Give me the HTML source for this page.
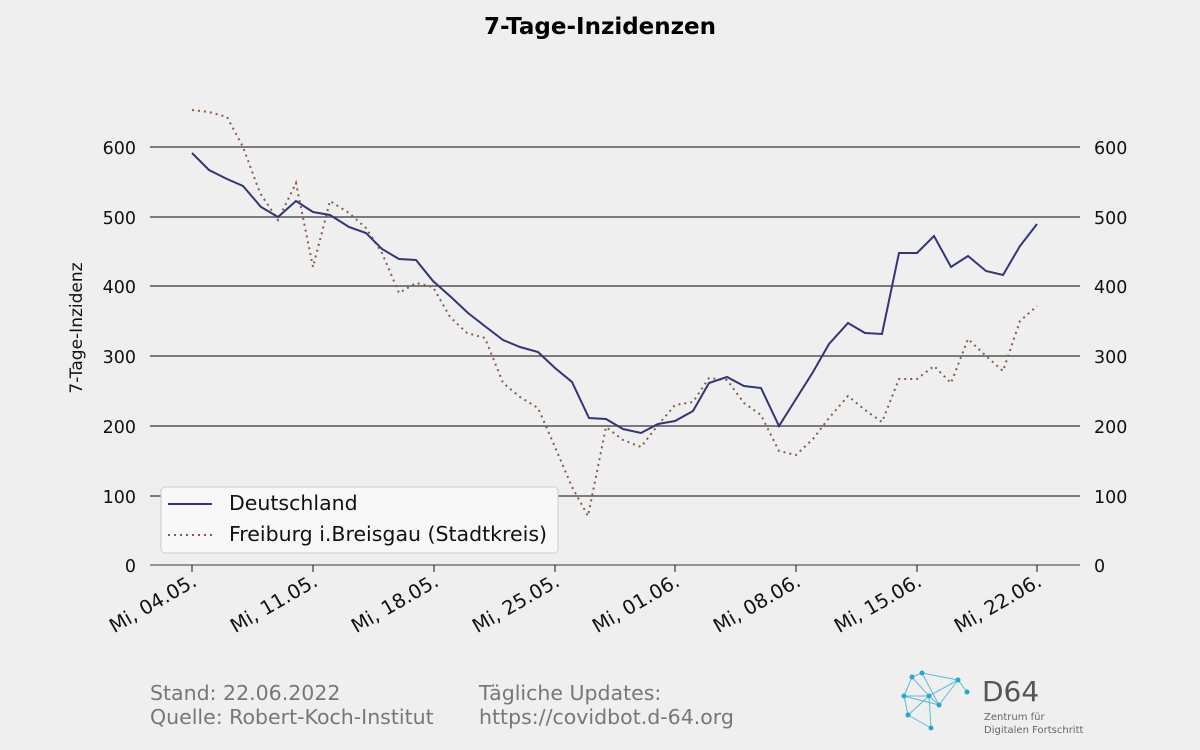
<!DOCTYPE html>
<html><head><meta charset="utf-8"><style>
html,body{margin:0;padding:0;background:#efefef;}
svg{display:block;font-family:"DejaVu Sans","Liberation Sans",sans-serif;}
</style></head><body>
<svg width="1200" height="750" viewBox="0 0 1200 750" xmlns="http://www.w3.org/2000/svg">
<rect width="1200" height="750" fill="#efefef"/>
<text x="600" y="34" text-anchor="middle" font-size="23" font-weight="bold" fill="#000">7-Tage-Inzidenzen</text>
<g stroke="#555" stroke-width="1.5">
<line x1="150" y1="147" x2="1080" y2="147"/>
<line x1="150" y1="217" x2="1080" y2="217"/>
<line x1="150" y1="286" x2="1080" y2="286"/>
<line x1="150" y1="356" x2="1080" y2="356"/>
<line x1="150" y1="426" x2="1080" y2="426"/>
<line x1="150" y1="496" x2="1080" y2="496"/>
<line x1="150" y1="565" x2="1080" y2="565" stroke="#777"/>
</g>
<g stroke="#333" stroke-width="1.2">
<line x1="192" y1="565" x2="192" y2="572"/><line x1="313" y1="565" x2="313" y2="572"/>
<line x1="434" y1="565" x2="434" y2="572"/><line x1="555" y1="565" x2="555" y2="572"/>
<line x1="675" y1="565" x2="675" y2="572"/><line x1="796" y1="565" x2="796" y2="572"/>
<line x1="917" y1="565" x2="917" y2="572"/><line x1="1037" y1="565" x2="1037" y2="572"/>
</g>
<g font-size="17.5" fill="#111">
<g text-anchor="end">
<text x="136" y="154">600</text><text x="136" y="224">500</text><text x="136" y="293">400</text>
<text x="136" y="363">300</text><text x="136" y="433">200</text><text x="136" y="503">100</text><text x="136" y="572">0</text>
</g>
<g text-anchor="start">
<text x="1094" y="154">600</text><text x="1094" y="224">500</text><text x="1094" y="293">400</text>
<text x="1094" y="363">300</text><text x="1094" y="433">200</text><text x="1094" y="503">100</text><text x="1094" y="572">0</text>
</g>
</g>
<g font-size="19.5" fill="#111" text-anchor="end">
<text transform="translate(198,585) rotate(-30)">Mi, 04.05.</text>
<text transform="translate(319,585) rotate(-30)">Mi, 11.05.</text>
<text transform="translate(440,585) rotate(-30)">Mi, 18.05.</text>
<text transform="translate(561,585) rotate(-30)">Mi, 25.05.</text>
<text transform="translate(681,585) rotate(-30)">Mi, 01.06.</text>
<text transform="translate(802,585) rotate(-30)">Mi, 08.06.</text>
<text transform="translate(923,585) rotate(-30)">Mi, 15.06.</text>
<text transform="translate(1043,585) rotate(-30)">Mi, 22.06.</text>
</g>
<text transform="translate(82,328) rotate(-90)" text-anchor="middle" font-size="17" fill="#111">7-Tage-Inzidenz</text>
<polyline fill="none" stroke="#8b5a45" stroke-width="2" stroke-dasharray="2,4" points="192,110 209,112 227,117 243,147 260,193 278,220 296,183 313,267 330,201 349,213 366,228 382,253 399,293 416,283 433,287 450,317 467,333 485,338 503,383 520,397 538,408 555,447 572,487 588,516 606,427 623,440 641,447 658,425 675,405 693,402 709,378 727,380 744,403 761,415 779,451 796,455 813,439 829,418 848,396 865,410 882,422 899,379 917,379 934,366 951,383 968,339 986,356 1003,371 1020,321 1037,306"/>
<polyline fill="none" stroke="#33347a" stroke-width="2" points="192,153 209,170 227,179 243,186 261,207 278,217 296,201 313,212 330,215 349,227 366,233 382,249 399,259 416,260 433,281 451,297 468,313 486,327 503,340 520,347 538,352 555,368 572,382 589,418 606,419 623,429 641,433 658,424 675,421 693,411 709,383 727,377 744,386 761,388 779,426 796,399 813,372 829,344 848,323 865,333 882,334 899,253 917,253 934,236 951,267 968,256 986,271 1003,275 1020,246 1037,224"/>
<rect x="161" y="487" width="397" height="66" rx="4" fill="#f8f8f8" stroke="#ccc" stroke-width="1"/>
<line x1="168" y1="504" x2="212" y2="504" stroke="#33347a" stroke-width="2"/>
<line x1="168" y1="535" x2="212" y2="535" stroke="#8b5a45" stroke-width="2" stroke-dasharray="2,4"/>
<text x="229" y="510" font-size="20.5" fill="#111">Deutschland</text>
<text x="229" y="541" font-size="20.5" fill="#111">Freiburg i.Breisgau (Stadtkreis)</text>
<g font-size="20.5" fill="#777">
<text x="150" y="700">Stand: 22.06.2022</text>
<text x="150" y="724">Quelle: Robert-Koch-Institut</text>
<text x="479" y="700">Tägliche Updates:</text>
<text x="479" y="724">https://covidbot.d-64.org</text>
</g>
<g stroke="#3ab0d0" stroke-width="1" fill="none" opacity="0.8">
<polyline points="912,677 922,673 958,680 967,692"/>
<polyline points="904,696 912,677 929,696 958,680"/>
<polyline points="904,696 929,696 939,705 958,680"/>
<polyline points="904,696 908,715 929,696 931,728 908,715"/>
<line x1="922" y1="673" x2="939" y2="705"/><line x1="904" y1="696" x2="939" y2="705"/>
</g>
<g fill="#2aa6cc">
<circle cx="912" cy="677" r="2.5"/><circle cx="922" cy="673" r="2.5"/><circle cx="958" cy="680" r="2.5"/>
<circle cx="967" cy="692" r="2.5"/><circle cx="904" cy="696" r="2.5"/><circle cx="929" cy="696" r="2.5"/>
<circle cx="939" cy="705" r="2.5"/><circle cx="908" cy="715" r="2.5"/><circle cx="931" cy="728" r="2.5"/>
</g>
<text x="982" y="701" font-size="28" fill="#555">D64</text>
<text x="984" y="720" font-size="10" fill="#666">Zentrum für</text>
<text x="984" y="733" font-size="10" fill="#666">Digitalen Fortschritt</text>
</svg>
</body></html>
